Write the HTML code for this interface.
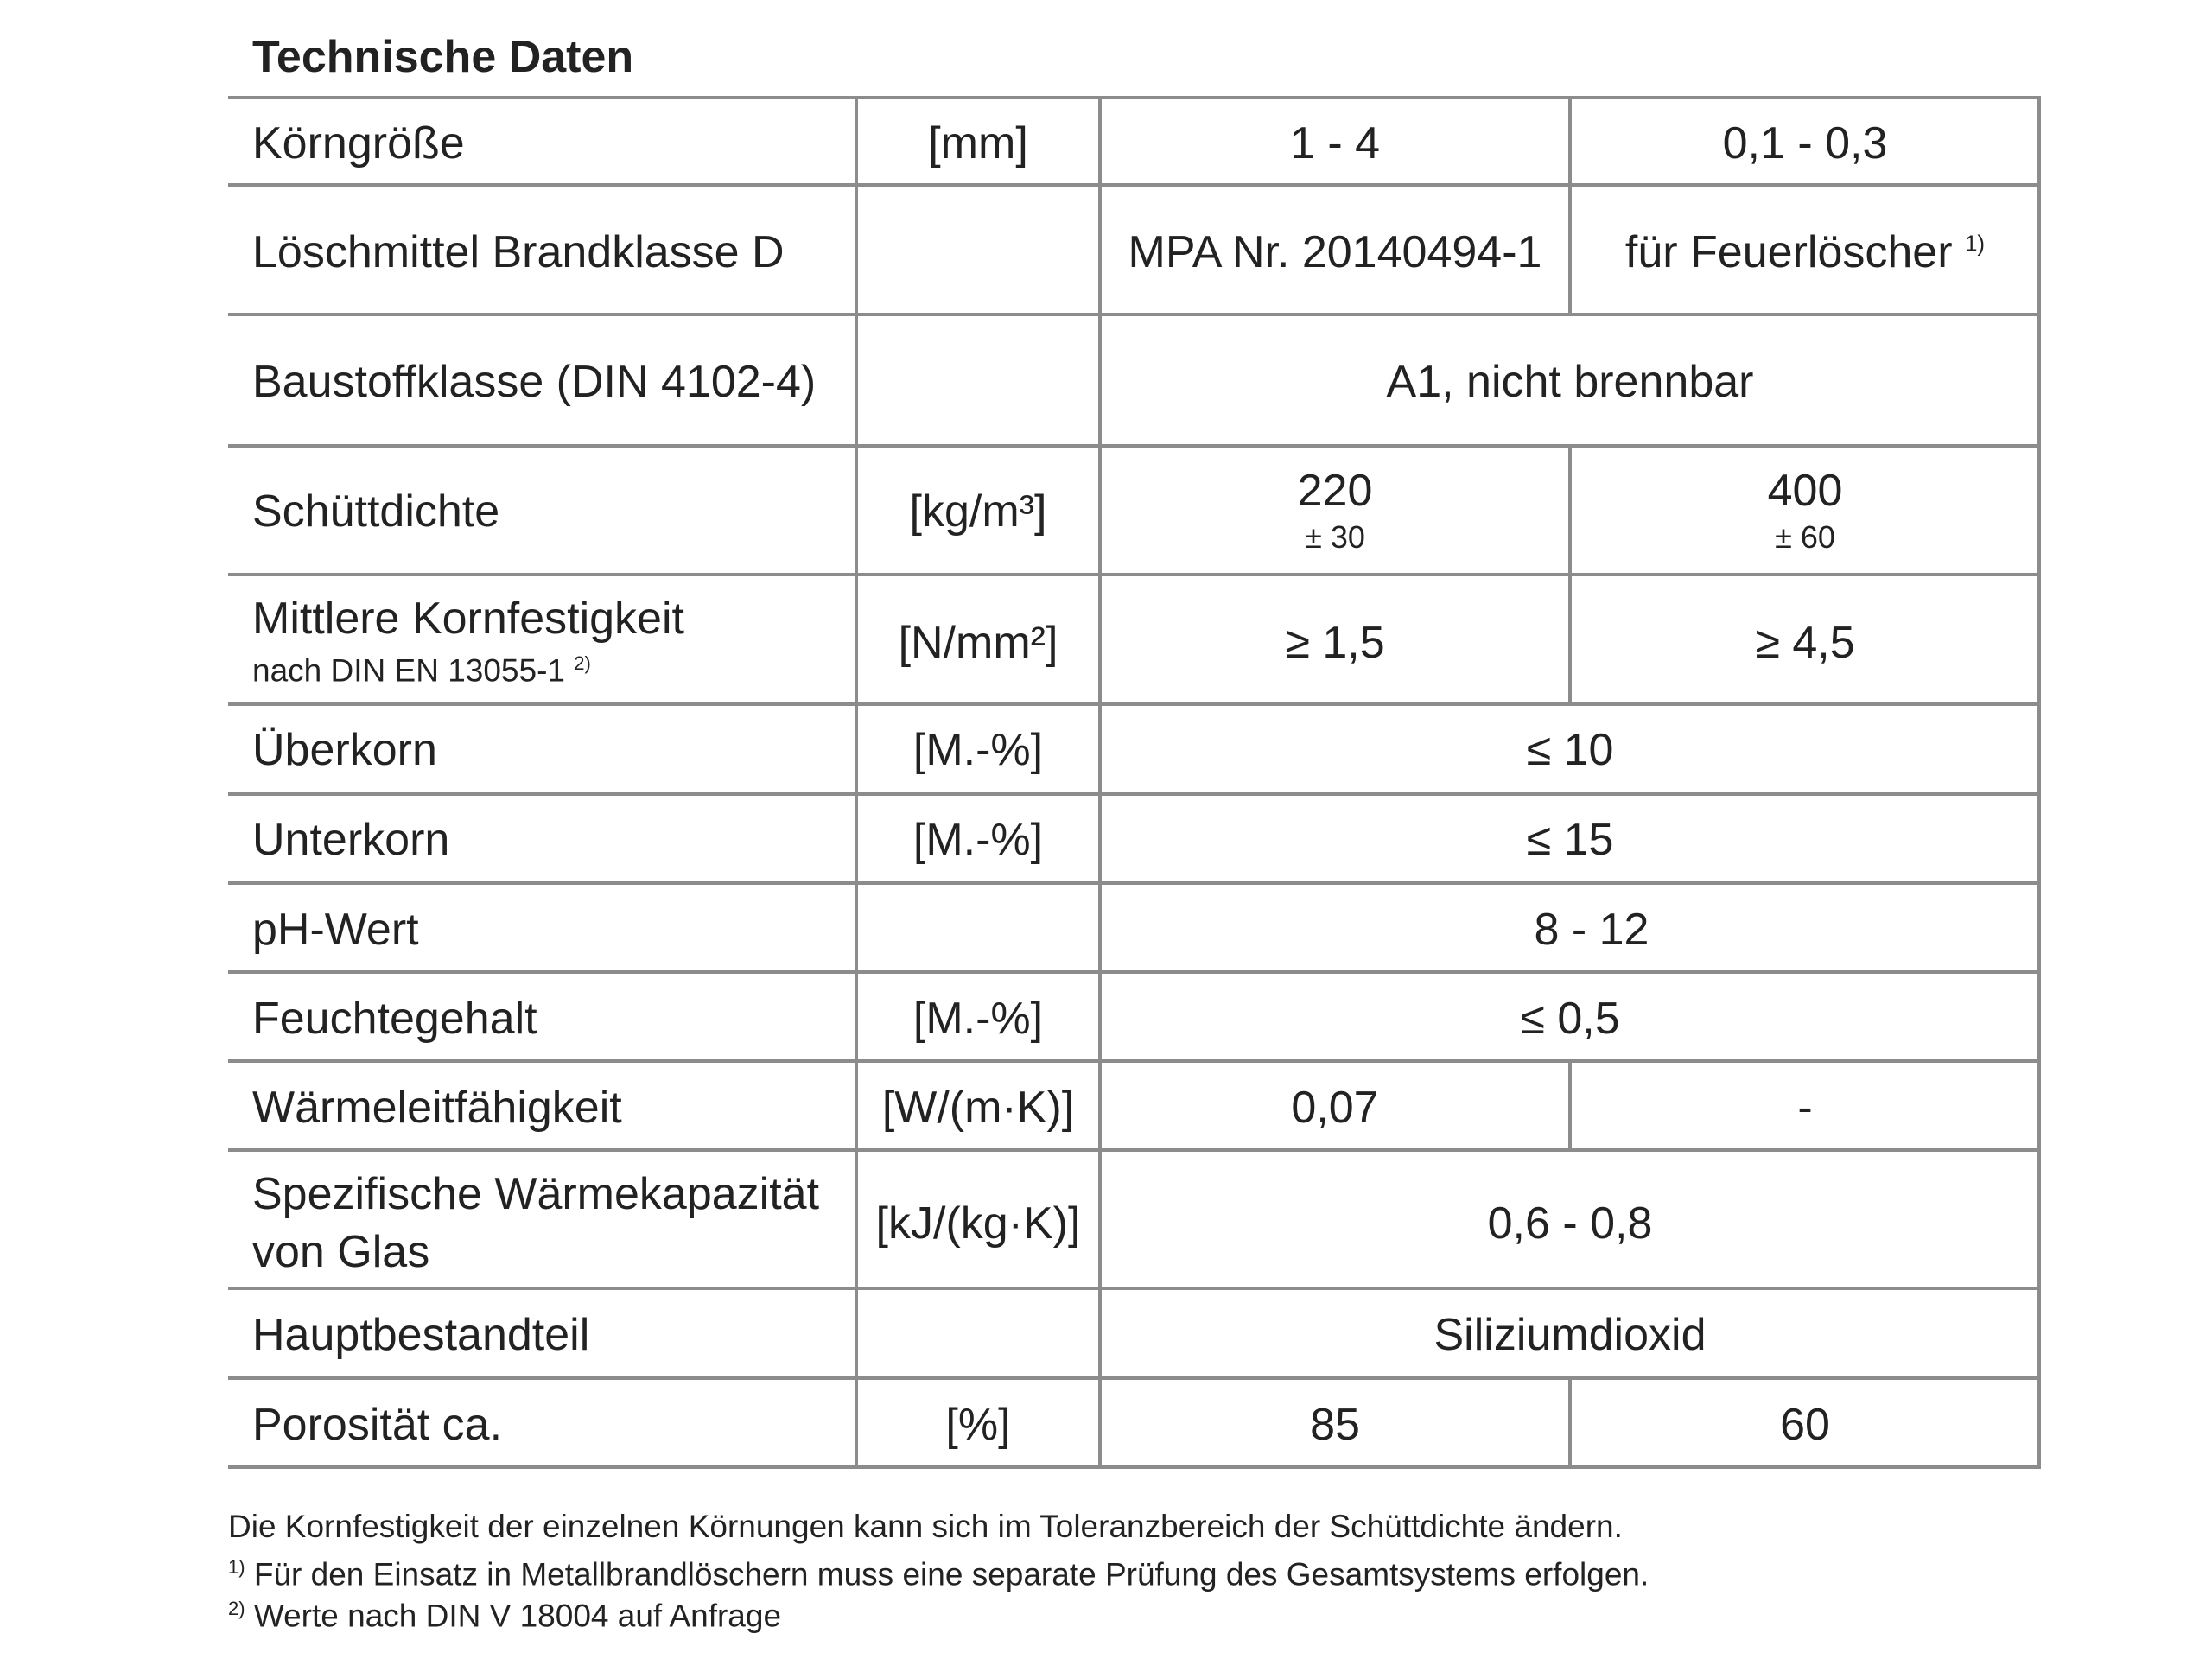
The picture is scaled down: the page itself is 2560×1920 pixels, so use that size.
<!DOCTYPE html>
<html><head><meta charset="utf-8"><style>
body{margin:0;width:2560px;height:1920px;background:#fff;position:relative;overflow:hidden;font-family:"Liberation Sans Narrow","Liberation Sans",sans-serif;color:#222}
.h{position:absolute;left:264px;width:2097px;height:4px;background:#8c8c8c}
.v{position:absolute;width:4px;background:#8c8c8c}
.t{position:absolute;font-size:52px;line-height:1;white-space:nowrap}
.c{transform:translateX(-50%)}
.m{transform:translate(-50%,-50%)}
.s{font-size:30px;vertical-align:super}
.f{position:absolute;left:264px;font-size:37px;white-space:nowrap;line-height:1}
</style></head><body>
<div class="t" style="left:292px;top:40px;font-family:'Liberation Sans Narrow','Liberation Sans',sans-serif;font-weight:bold;font-size:52px">Technische Daten</div>

<div class="h" style="top:111px"></div>
<div class="h" style="top:212px"></div>
<div class="h" style="top:362px"></div>
<div class="h" style="top:514px"></div>
<div class="h" style="top:663px"></div>
<div class="h" style="top:813px"></div>
<div class="h" style="top:917px"></div>
<div class="h" style="top:1020px"></div>
<div class="h" style="top:1123px"></div>
<div class="h" style="top:1226px"></div>
<div class="h" style="top:1329px"></div>
<div class="h" style="top:1489px"></div>
<div class="h" style="top:1593px"></div>
<div class="h" style="top:1696px"></div>

<div class="v" style="left:989px;top:111px;height:1589px"></div>
<div class="v" style="left:1271px;top:111px;height:1589px"></div>
<div class="v" style="left:2358px;top:111px;height:1589px"></div>
<div class="v" style="left:1815px;top:111px;height:253px"></div>
<div class="v" style="left:1815px;top:514px;height:301px"></div>
<div class="v" style="left:1815px;top:1226px;height:105px"></div>
<div class="v" style="left:1815px;top:1593px;height:105px"></div>

<!-- labels -->
<div class="t" style="left:292px;top:140px">Körngröße</div>
<div class="t" style="left:292px;top:266px">Löschmittel Brandklasse D</div>
<div class="t" style="left:292px;top:416px">Baustoffklasse (DIN 4102-4)</div>
<div class="t" style="left:292px;top:566px">Schüttdichte</div>
<div class="t" style="left:292px;top:690px">Mittlere Kornfestigkeit</div>
<div class="t" style="left:292px;top:757px;font-size:37px">nach DIN EN 13055-1 <span style="font-size:22px;vertical-align:super">2)</span></div>
<div class="t" style="left:292px;top:842px">Überkorn</div>
<div class="t" style="left:292px;top:946px">Unterkorn</div>
<div class="t" style="left:292px;top:1050px">pH-Wert</div>
<div class="t" style="left:292px;top:1153px">Feuchtegehalt</div>
<div class="t" style="left:292px;top:1256px">Wärmeleitfähigkeit</div>
<div class="t" style="left:292px;top:1356px">Spezifische Wärmekapazität</div>
<div class="t" style="left:292px;top:1423px">von Glas</div>
<div class="t" style="left:292px;top:1519px">Hauptbestandteil</div>
<div class="t" style="left:292px;top:1623px">Porosität ca.</div>

<!-- units -->
<div class="t c" style="left:1132px;top:140px">[mm]</div>
<div class="t c" style="left:1132px;top:566px">[kg/m³]</div>
<div class="t c" style="left:1132px;top:718px">[N/mm²]</div>
<div class="t c" style="left:1132px;top:842px">[M.-%]</div>
<div class="t c" style="left:1132px;top:946px">[M.-%]</div>
<div class="t c" style="left:1132px;top:1153px">[M.-%]</div>
<div class="t c" style="left:1132px;top:1256px">[W/(m·K)]</div>
<div class="t c" style="left:1132px;top:1390px">[kJ/(kg·K)]</div>
<div class="t c" style="left:1132px;top:1623px">[%]</div>

<!-- values -->
<div class="t c" style="left:1545px;top:140px">1 - 4</div>
<div class="t c" style="left:2089px;top:140px">0,1 - 0,3</div>
<div class="t c" style="left:1545px;top:266px">MPA Nr. 20140494-1</div>
<div class="t c" style="left:2089px;top:266px">für Feuerlöscher <span style="font-size:26px;vertical-align:super">1)</span></div>
<div class="t c" style="left:1817px;top:416px">A1, nicht brennbar</div>
<div class="t c" style="left:1545px;top:542px">220</div>
<div class="t c" style="left:1545px;top:604px;font-size:36px">± 30</div>
<div class="t c" style="left:2089px;top:542px">400</div>
<div class="t c" style="left:2089px;top:604px;font-size:36px">± 60</div>
<div class="t c" style="left:1545px;top:718px">≥ 1,5</div>
<div class="t c" style="left:2089px;top:718px">≥ 4,5</div>
<div class="t c" style="left:1817px;top:842px">≤ 10</div>
<div class="t c" style="left:1817px;top:946px">≤ 15</div>
<div class="t c" style="left:1842px;top:1050px">8 - 12</div>
<div class="t c" style="left:1817px;top:1153px">≤ 0,5</div>
<div class="t c" style="left:1545px;top:1256px">0,07</div>
<div class="t c" style="left:2089px;top:1256px">-</div>
<div class="t c" style="left:1817px;top:1390px">0,6 - 0,8</div>
<div class="t c" style="left:1817px;top:1519px">Siliziumdioxid</div>
<div class="t c" style="left:1545px;top:1623px">85</div>
<div class="t c" style="left:2089px;top:1623px">60</div>

<div class="f" style="top:1748px">Die Kornfestigkeit der einzelnen Körnungen kann sich im Toleranzbereich der Schüttdichte ändern.</div>
<div class="f" style="top:1803px"><span style="font-size:22px;vertical-align:super">1)</span> Für den Einsatz in Metallbrandlöschern muss eine separate Prüfung des Gesamtsystems erfolgen.</div>
<div class="f" style="top:1851px"><span style="font-size:22px;vertical-align:super">2)</span> Werte nach DIN V 18004 auf Anfrage</div>
</body></html>
